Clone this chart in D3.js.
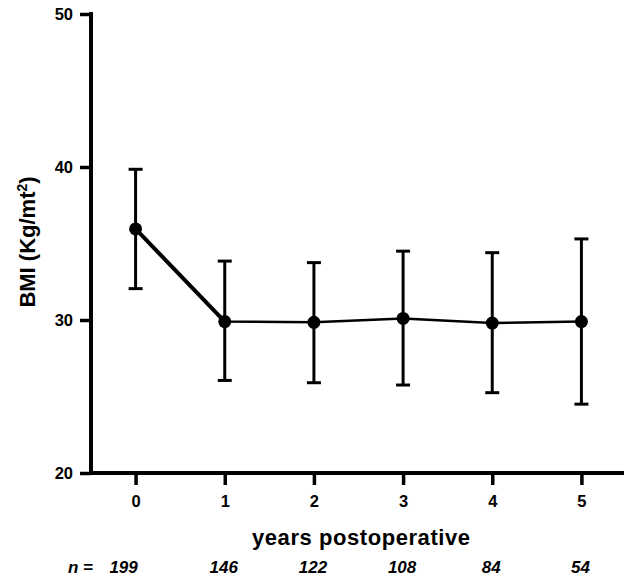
<!DOCTYPE html>
<html>
<head>
<meta charset="utf-8">
<script src="https://cdn.jsdelivr.net/npm/d3@7/dist/d3.min.js"></script>
<style>
html,body{margin:0;padding:0;background:#fff;}
svg{display:block;font-family:"Liberation Sans",Arial,sans-serif;}
</style>
</head>
<body>
<script>
// ---- data ----
const years = [0, 1, 2, 3, 4, 5];
const meanBMI = [35.95, 29.9, 29.85, 30.1, 29.8, 29.9];
const upperBMI = [39.85, 33.85, 33.75, 34.5, 34.4, 35.3];
const lowerBMI = [32.05, 26.05, 25.9, 25.75, 25.25, 24.5];
const nLabels = ["199", "146", "122", "108", "84", "54"];
const yTicks = [20, 30, 40, 50];

const W = 624, H = 578;
const svg = d3.select("body").append("svg").attr("width", W).attr("height", H);

const x = d3.scaleLinear().domain([-0.5, 5.5]).range([91, 626]);
const y = d3.scaleLinear().domain([20, 50]).range([473, 14]);

// y axis
const gy = svg.append("g").attr("transform", "translate(91,0)")
  .call(d3.axisLeft(y).tickValues(yTicks).tickSize(11).tickPadding(7).tickSizeOuter(0));
gy.select(".domain").attr("stroke", "#000").attr("stroke-width", 4)
  .attr("d", `M0,${y(50) - 2}V${y(20) + 2}`);
gy.selectAll(".tick line").attr("stroke", "#000").attr("stroke-width", 3.5);
gy.selectAll(".tick text").attr("font-size", 16.5).attr("font-weight", "bold")
  .attr("fill", "#000").attr("font-family", "Liberation Sans, Arial, sans-serif");

// x axis
const gx = svg.append("g").attr("transform", "translate(0,473)")
  .call(d3.axisBottom(x).tickValues(years).tickFormat(d3.format("d")).tickSize(12).tickPadding(10).tickSizeOuter(0));
gx.select(".domain").attr("stroke", "#000").attr("stroke-width", 4)
  .attr("d", `M89,0H${W}`);
gx.selectAll(".tick line").attr("stroke", "#000").attr("stroke-width", 3.5);
gx.selectAll(".tick text").attr("font-size", 16.5).attr("font-weight", "bold")
  .attr("fill", "#000").attr("font-family", "Liberation Sans, Arial, sans-serif");

// axis titles
svg.append("text").attr("x", 361).attr("y", 545).attr("text-anchor", "middle")
  .attr("font-size", 22).attr("font-weight", "bold").attr("textLength", 218)
  .text("years postoperative");

const yl = svg.append("text")
  .attr("transform", "translate(35,242) rotate(-90)")
  .attr("text-anchor", "middle").attr("font-size", 22).attr("font-weight", "bold");
yl.append("tspan").text("BMI (Kg/mt");
yl.append("tspan").attr("font-size", 14).attr("dy", -8).text("2");
yl.append("tspan").attr("dy", 8).text(")");

// n labels
svg.append("text").attr("x", 68).attr("y", 573).attr("font-size", 17)
  .attr("font-style", "italic").attr("font-weight", "bold").text("n =");
svg.selectAll("text.nlab").data(nLabels).enter().append("text")
  .attr("class", "nlab")
  .attr("x", (d, i) => x(years[i]) + (i === 0 ? -12 : -1))
  .attr("y", 573).attr("text-anchor", "middle").attr("font-size", 17)
  .attr("font-style", "italic").attr("font-weight", "bold").text(d => d);

// error bars
const eb = svg.append("g").attr("stroke", "#000").attr("stroke-width", 3).attr("fill", "none");
years.forEach((yr, i) => {
  eb.append("line").attr("x1", x(yr)).attr("x2", x(yr)).attr("y1", y(upperBMI[i])).attr("y2", y(lowerBMI[i]));
  eb.append("line").attr("x1", x(yr) - 7).attr("x2", x(yr) + 7).attr("y1", y(upperBMI[i])).attr("y2", y(upperBMI[i]));
  eb.append("line").attr("x1", x(yr) - 7).attr("x2", x(yr) + 7).attr("y1", y(lowerBMI[i])).attr("y2", y(lowerBMI[i]));
});

// line
const pts = years.map((yr, i) => [yr, meanBMI[i]]);
const line = d3.line().x(d => x(d[0])).y(d => y(d[1]));
svg.append("path").attr("d", line(pts)).attr("fill", "none").attr("stroke", "#000").attr("stroke-width", 2.5);
svg.append("path").attr("d", line(pts.slice(0, 2))).attr("fill", "none").attr("stroke", "#000").attr("stroke-width", 4);

// markers
svg.selectAll("circle.pt").data(pts).enter().append("circle").attr("class", "pt")
  .attr("cx", d => x(d[0])).attr("cy", d => y(d[1])).attr("r", 6.5).attr("fill", "#000");
</script>
</body>
</html>
